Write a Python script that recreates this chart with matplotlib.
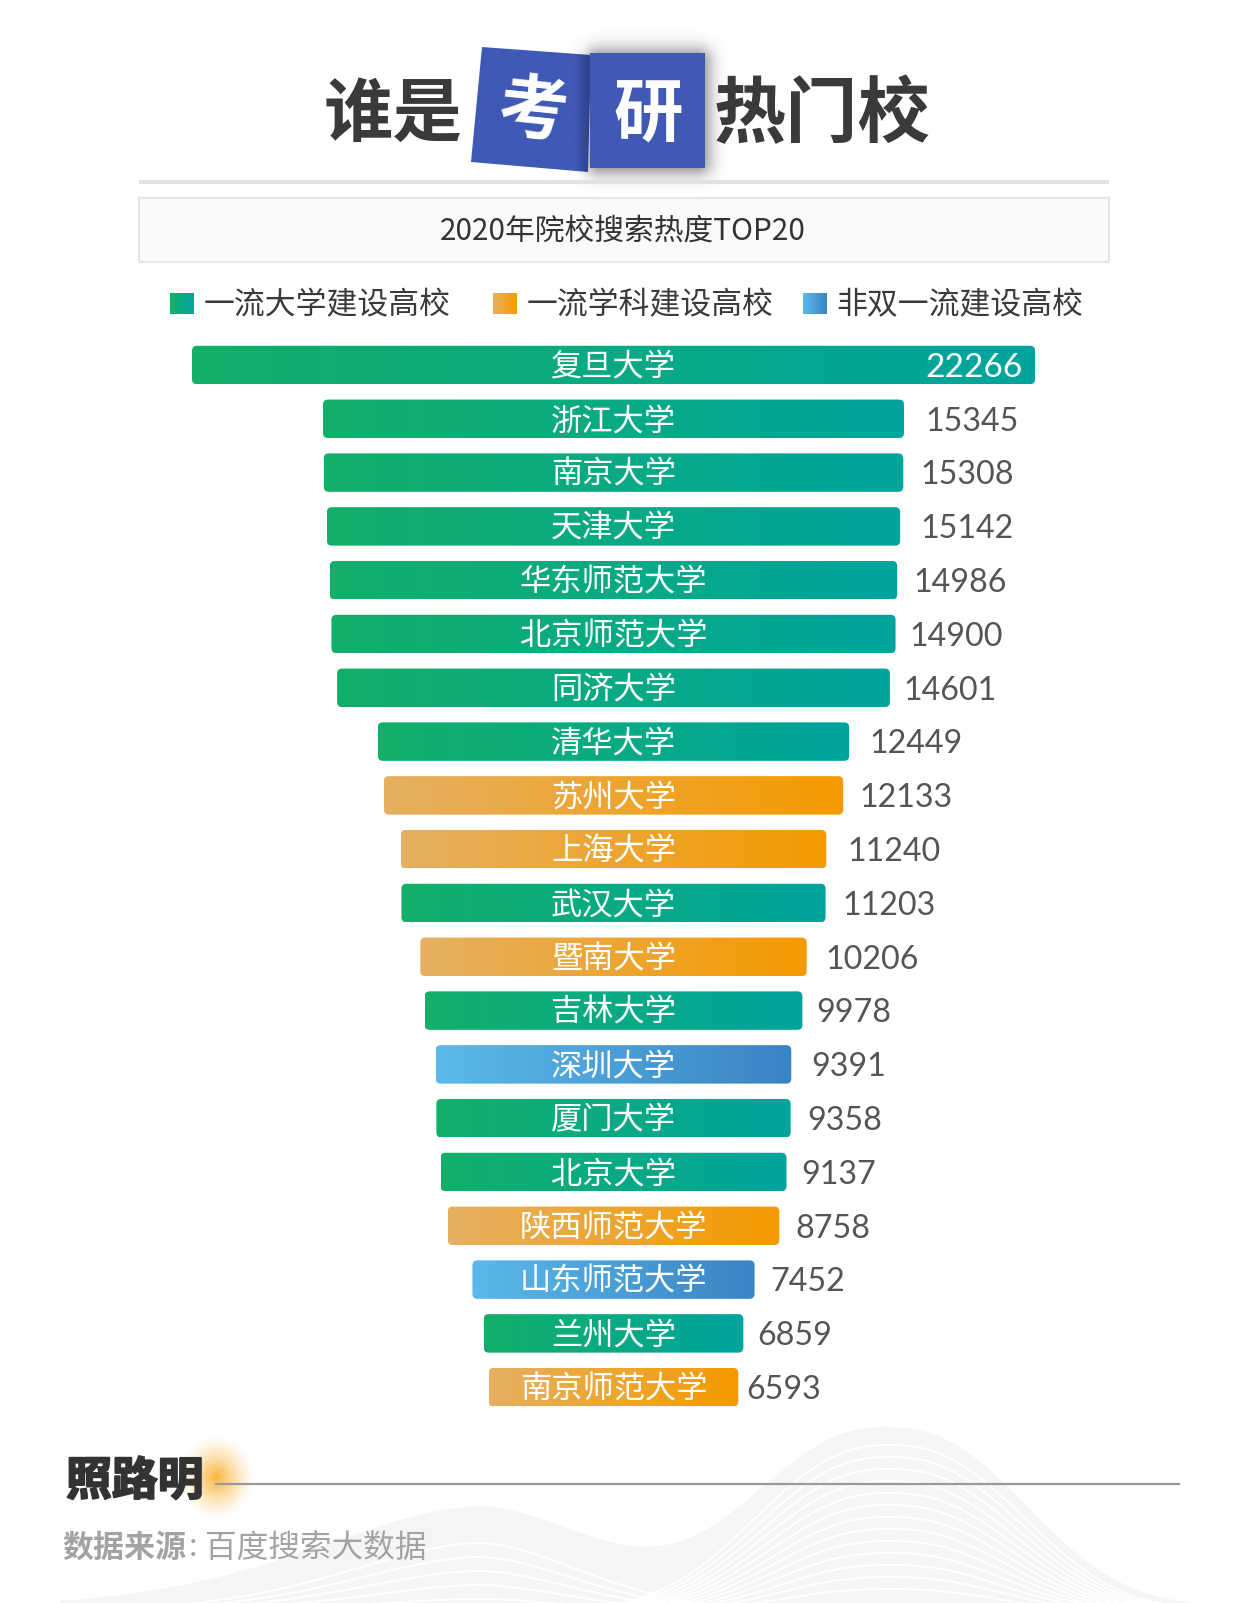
import numpy as np
import matplotlib
matplotlib.use("Agg")
import matplotlib.pyplot as plt
from matplotlib.colors import LinearSegmentedColormap, to_rgb
from matplotlib.patches import FancyBboxPatch, Polygon, Rectangle
import matplotlib.patheffects as pe

plt.rcParams['font.family'] = ['Noto Sans CJK SC', 'DejaVu Sans']

schools = ["复旦大学", "浙江大学", "南京大学", "天津大学", "华东师范大学", "北京师范大学", "同济大学",
           "清华大学", "苏州大学", "上海大学", "武汉大学", "暨南大学", "吉林大学", "深圳大学",
           "厦门大学", "北京大学", "陕西师范大学", "山东师范大学", "兰州大学", "南京师范大学"]
values = [22266, 15345, 15308, 15142, 14986, 14900, 14601, 12449, 12133, 11240, 11203, 10206,
          9978, 9391, 9358, 9137, 8758, 7452, 6859, 6593]
kinds = ["g", "g", "g", "g", "g", "g", "g", "g", "o", "o", "g", "o", "g", "b", "g", "g", "o", "b", "g", "o"]
legend_names = ["一流大学建设高校", "一流学科建设高校", "非双一流建设高校"]

# gap between bar end and number, it is not constant in the original
label_gaps = [0, 21, 17, 20, 16, 14, 13, 20, 16, 21, 16, 18, 14, 20, 16, 14, 16, 15, 14, 8]
gradients = {"g": ("#12b069", "#00a49e"), "o": ("#e6b062", "#f59a00"), "b": ("#5cb9ea", "#3a84c3")}

W, H = 1250, 1603
fig = plt.figure(figsize=(W / 100, H / 100), dpi=100, facecolor="white")

# page layer, works in pixels
bg = fig.add_axes([0, 0, 1, 1], zorder=0)
bg.set_xlim(0, W)
bg.set_ylim(H, 0)
bg.axis("off")


def ramp(ax, c1, c2, extent, clip=None, zorder=2):
    cmap = LinearSegmentedColormap.from_list("r", [c1, c2])
    im = ax.imshow(np.linspace(0, 1, 256).reshape(1, -1), cmap=cmap, extent=extent,
                   aspect="auto", zorder=zorder, interpolation="bilinear")
    if clip is not None:
        im.set_clip_path(clip)
    return im


# mountains at the bottom
mx = np.linspace(60, 1250, 800)


def ridge(x, h1, w1, h2, w2):
    big = h1 * np.exp(-(np.abs(x - 890) / w1) ** 2.4)
    # left flank of the small hill runs out longer than the right one
    wside = np.where(x < 480, w2 * 1.3, w2)
    small = h2 * np.exp(-(np.abs(x - 480) / wside) ** 1.8)
    return 1606 - big - small


hill = bg.fill_between(mx, ridge(mx, 178, 172, 100, 180), 1610, color="#f5f5f5", lw=0, zorder=1)
for k in range(1, 14):
    ln, = bg.plot(mx, ridge(mx, 178 - 12 * k, 172 - 3 * k, 0, 180) + 5, color="white", lw=1.4, zorder=1.1)
    ln.set_clip_path(hill.get_paths()[0], bg.transData)
for k in range(1, 6):
    ln, = bg.plot(mx, ridge(mx, 0, 172, 82 - 14 * k, 150 - 6 * k) + 5, color="white", lw=1.4, zorder=1.1)
    ln.set_clip_path(hill.get_paths()[0], bg.transData)

# shadow of the right panel
sx, sy = np.meshgrid(np.arange(555, 735), np.arange(20, 205))
dx = np.maximum(np.maximum(600 - sx, sx - 696), 0)
dy = np.maximum(np.maximum(62 - sy, sy - 160), 0)
rgba = np.zeros(sx.shape + (4,))
rgba[..., :3] = 0.2
rgba[..., 3] = 0.55 * np.exp(-(dx ** 2 + dy ** 2) / (2 * 11.0 ** 2))
bg.imshow(rgba, extent=(555, 735, 205, 20), aspect="auto", zorder=2, interpolation="bilinear")

# title panels
left_panel = Polygon([(482, 47), (591, 55), (588, 172), (471, 162)], closed=True, transform=bg.transData, fc="none", ec="none")
bg.add_patch(left_panel)
cmap = LinearSegmentedColormap.from_list("p", [(0, "#3f59b5"), (0.86, "#3f59b5"), (1, "#2c3f8a")])
im = bg.imshow(np.linspace(0, 1, 256).reshape(1, -1), cmap=cmap, extent=(471, 591, 172, 47), aspect="auto", zorder=3)
im.set_clip_path(left_panel)
bg.add_patch(Rectangle((590, 53), 115, 115, fc="#3f59b5", ec="none", zorder=4))

title_color = "#3a3a3a"
bg.text(393, 116, "谁是", fontsize=50, weight="bold", color=title_color, ha="center", va="center", zorder=5)
bg.text(822, 116, "热门校", fontsize=52, weight="bold", color=title_color, ha="center", va="center", zorder=5)
bg.text(533, 112, "考", fontsize=50, weight="bold", color="white", ha="center", va="center", rotation=-6, zorder=5)
bg.text(648, 116, "研", fontsize=50, weight="bold", color="white", ha="center", va="center", zorder=5)

bg.plot([139, 1109], [182, 182], color="#e2e2e2", lw=3, solid_capstyle="butt", zorder=2.5)
bg.add_patch(Rectangle((139, 198), 970, 64, fc="#fafafa", ec="#e6e6e6", lw=1.5, zorder=2))
bg.text(623, 231, "2020年院校搜索热度TOP20", fontsize=21.4, weight="medium", color="#333333", ha="center", va="center", zorder=5)

# legend
legend_boxes = [170, 493, 803]
legend_texts = [204, 527, 836]
for nm, kind, bx, tx in zip(legend_names, ["g", "o", "b"], legend_boxes, legend_texts):
    ramp(bg, *gradients[kind], (bx, bx + 24, 314, 293))
    bg.text(tx, 306, nm, fontsize=22.2, weight="medium", color="#3a3a3a", ha="left", va="center", zorder=5)

# footer
cx, cy = np.meshgrid(np.arange(165, 268), np.arange(1425, 1530))
rr = np.sqrt(((cx - 216) / 38.0) ** 2 + ((cy - 1477) / 42.0) ** 2)
glow = np.zeros(cx.shape + (4,))
glow[..., :3] = to_rgb("#f9b233")
glow[..., 3] = np.clip(1 - rr, 0, 1) ** 1.3 * 0.95
bg.imshow(glow, extent=(165, 268, 1530, 1425), aspect="auto", zorder=2, interpolation="bilinear")
bg.plot([216, 1179], [1484, 1484], color="#9a9a9a", lw=1.6, zorder=3)
bg.text(66, 1482, "照路明", fontsize=33, weight="bold", style="italic", color="#333333", ha="left", va="center", zorder=5,
        path_effects=[pe.withStroke(linewidth=1.4, foreground="#333333")])
bg.text(62, 1548, "数据来源", fontsize=22.3, weight="bold", color="#a3a3a3", ha="left", va="center", zorder=5)
bg.text(189, 1548, ":", fontsize=22, color="#a3a3a3", ha="left", va="center", zorder=5)
bg.text(205, 1548, "百度搜索大数据", fontsize=22.8, color="#a3a3a3", ha="left", va="center", zorder=5)
bg.set_xlim(0, W)
bg.set_ylim(H, 0)

# bars, centred funnel on its own value axis
px_per_value = 843 / 22266
row_px = 53.8
ax_left, ax_right, ax_top, ax_bottom = 100, 1127, 338, 1415
ax = fig.add_axes([ax_left / W, 1 - ax_bottom / H, (ax_right - ax_left) / W, (ax_bottom - ax_top) / H], zorder=1)
ax.patch.set_alpha(0)
half = (ax_right - ax_left) / 2 / px_per_value
ylim = ((ax_bottom - 365) / row_px, (ax_top - 365) / row_px)
ax.set_xlim(-half, half)
ax.set_ylim(*ylim)
ax.axis("off")

vals = np.array(values, dtype=float)
rows = np.arange(len(vals))
bars = ax.barh(rows, vals, left=-vals / 2, height=0.715, color="none", edgecolor="none")
round_x = 5 / px_per_value
for bar, kind in zip(bars, kinds):
    x0, y0, w, h = bar.get_x(), bar.get_y(), bar.get_width(), bar.get_height()
    shape = FancyBboxPatch((x0, y0), w, h, boxstyle=f"round,pad=0,rounding_size={round_x}",
                           mutation_aspect=(px_per_value / row_px), fc="none", ec="none")
    ax.add_patch(shape)
    ramp(ax, *gradients[kind], (x0, x0 + w, y0 + h, y0), clip=shape)
for i, (name, v, gap) in enumerate(zip(schools, values, label_gaps)):
    ax.text(0, i + 0.045, name, fontsize=22.5, weight="medium", color="white", ha="center", va="center", zorder=5)
    if i == 0:
        ax.annotate(str(v), (v / 2, i), xytext=(-9, -2), textcoords="offset points", fontsize=24,
                    family=["Lato", "DejaVu Sans"], color="white", ha="right", va="center", zorder=5)
    else:
        ax.annotate(str(v), (v / 2, i), xytext=(gap * 0.735, -2), textcoords="offset points", fontsize=23.2,
                    family=["Lato", "DejaVu Sans"], color="#555555", ha="left", va="center", zorder=5)
ax.set_xlim(-half, half)
ax.set_ylim(*ylim)

fig.savefig("out.png", dpi=100)
